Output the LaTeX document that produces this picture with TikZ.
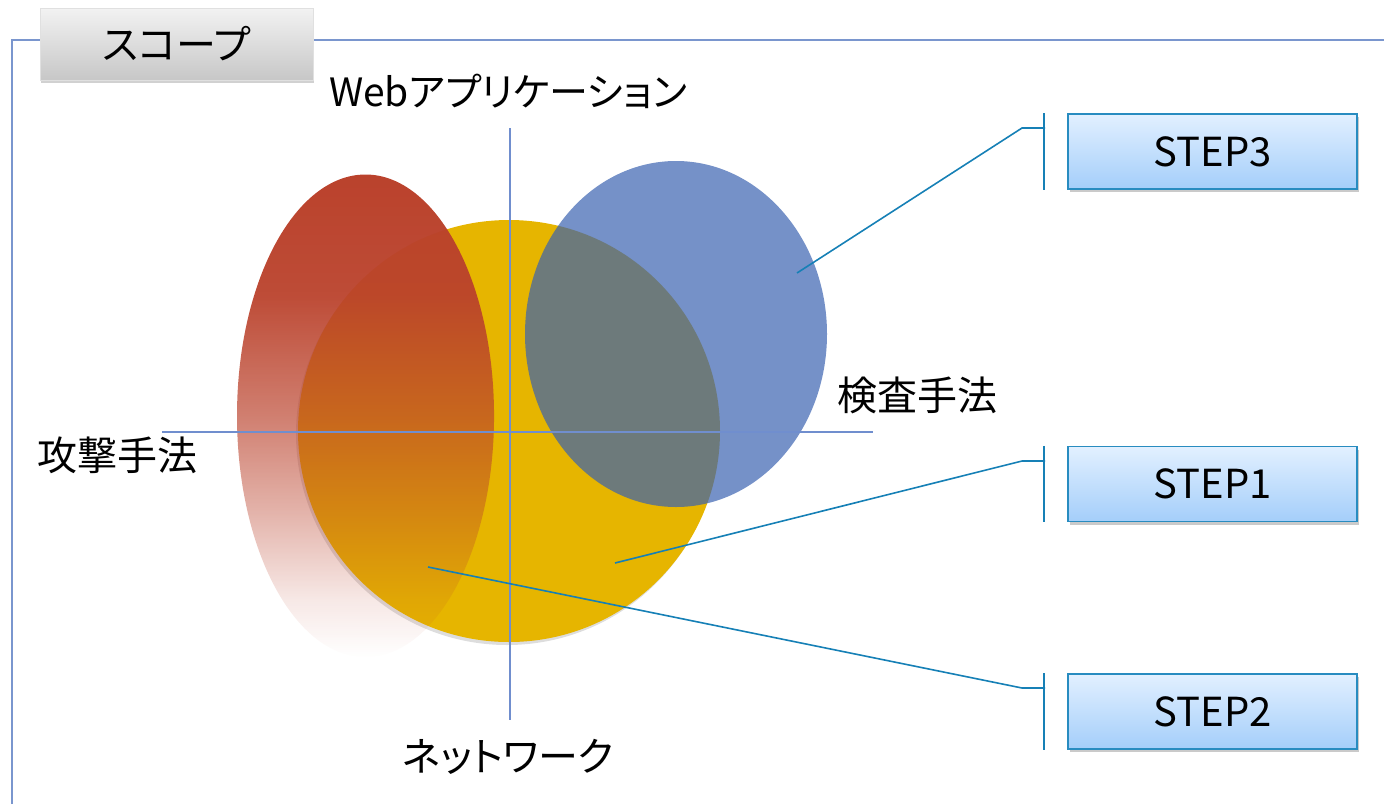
\documentclass[tikz,border=0pt]{standalone}
\usepackage{fontspec}
\newfontfamily\jp[RawFeature=+palt]{Noto Sans CJK JP}
\usetikzlibrary{shadows,fadings}
\definecolor{framec}{RGB}{122,150,206}
\definecolor{axisc}{RGB}{112,142,206}
\definecolor{yellowc}{RGB}{230,181,0}
\definecolor{redc}{RGB}{186,66,44}
\definecolor{bluec}{RGB}{58,98,176}
\definecolor{linkc}{RGB}{22,128,182}
\definecolor{boxtop}{RGB}{226,240,255}
\definecolor{boxbot}{RGB}{164,206,250}
\definecolor{boxline}{RGB}{40,140,192}
\pgfdeclareverticalshading{redfadeshade}{100bp}{color(0bp)=(black); color(25bp)=(black); color(31bp)=(white!12!black); color(40bp)=(white!40!black); color(50bp)=(white!68!black); color(62.5bp)=(white!95!black); color(75bp)=(white); color(100bp)=(white)}
\pgfdeclarefading{redfade}{\pgfuseshading{redfadeshade}}
\tikzset{
  stepbox/.style={draw=boxline, line width=1.5pt, top color=boxtop, bottom color=boxbot,
    minimum width=289pt, minimum height=75pt, inner sep=0pt,
    drop shadow={shadow xshift=2pt, shadow yshift=-3pt, opacity=0.35, fill=black!60}},
  titlebox/.style={top color=black!5, bottom color=black!22, draw=black!12, line width=0.5pt,
    minimum width=273pt, minimum height=72pt, inner sep=0pt,
    drop shadow={shadow xshift=1pt, shadow yshift=-3pt, opacity=0.3, fill=black!60}},
  lbl/.style={inner sep=0pt, text=black},
  link/.style={draw=linkc, line width=1.6pt},
  axis/.style={draw=axisc, line width=1.5pt},
}
\begin{document}
\begin{tikzpicture}[x=1pt,y=-1pt, font=\jp\fontsize{40}{48}\selectfont]
\useasboundingbox (0,0) rectangle (1384,804);
% frame
\draw[framec, line width=1.5pt] (12,804) -- (12,40) -- (1384,40);
% title
\node[titlebox] (title) at (176.5,44) {スコープ};
% shapes
\path[fill=yellowc, drop shadow={shadow xshift=-2pt, shadow yshift=-3pt, opacity=0.22, fill=black!60}] (509,431) circle [radius=211];
\path[fill=redc, path fading=redfade] (365.5,415.5) ellipse [x radius=128.5, y radius=241.5];
\path[fill=bluec, fill opacity=0.7] (676,334) ellipse [x radius=151, y radius=173];
% axes
\coordinate (vt) at (510,128);
\coordinate (vb) at (510,720);
\coordinate (hl) at (162,432);
\coordinate (hr) at (873,432);
\draw[axis] (vt) -- (vb);
\draw[axis] (hl) -- (hr);
% axis labels
\node[lbl] (web) at (508,91) {\fontsize{39}{46}\selectfont Webアプリケーション};
\node[lbl] (net) at (508,757) {ネットワーク};
\node[lbl] (atk) at (117,455) {攻撃手法};
\node[lbl] (ins) at (917,395) {検査手法};
% step boxes
\node[stepbox] (s3) at (1212.5,151.5) {STEP3};
\node[stepbox] (s1) at (1212.5,484) {STEP1};
\node[stepbox] (s2) at (1212.5,711.5) {STEP2};
% brackets
\foreach \s in {s3, s1, s2}{
  \coordinate (\s bt) at ([xshift=-23pt]\s.north west);
  \coordinate (\s bb) at ([xshift=-23pt]\s.south west);
  \draw[link] (\s bt) -- (\s bb);
}
\coordinate (s3h) at (1045,128);
\coordinate (s3k) at (1022,128);
\coordinate (s3p) at (797,273);
\coordinate (s1h) at (1045,461);
\coordinate (s1k) at (1022,461);
\coordinate (s1p) at (615,563);
\coordinate (s2h) at (1045,688);
\coordinate (s2k) at (1022,688);
\coordinate (s2p) at (428,567);
\draw[link] (s3p) -- (s3k) -- (s3h);
\draw[link] (s1p) -- (s1k) -- (s1h);
\draw[link] (s2p) -- (s2k) -- (s2h);
\end{tikzpicture}
\end{document}
